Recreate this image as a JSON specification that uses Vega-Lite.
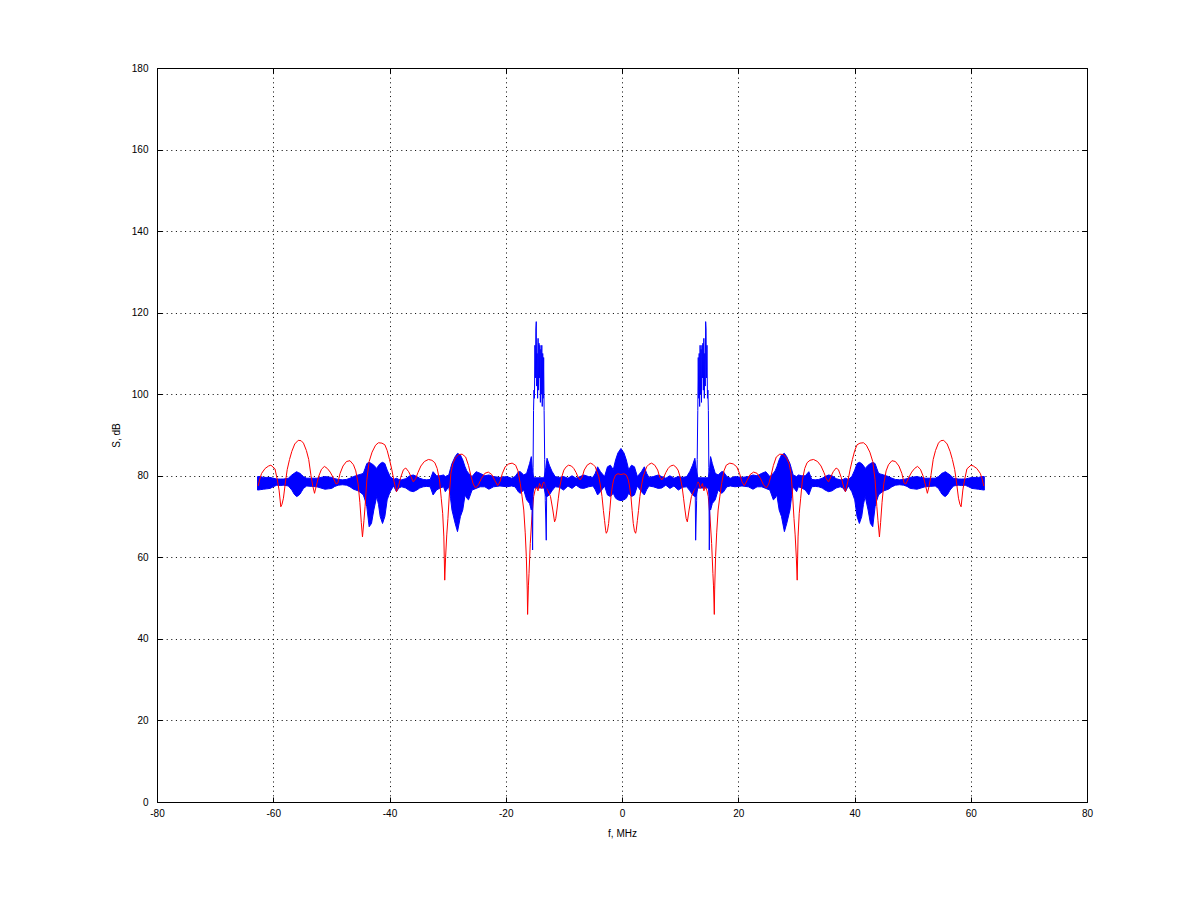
{
  "$schema": "https://vega.github.io/schema/vega-lite/v6.json",
  "description": "Spectrum S (dB) vs f (MHz), red and blue traces, Octave-style box with dotted grid.",
  "width": 930,
  "height": 734,
  "autosize": "none",
  "padding": {"left": 157, "top": 68, "right": 113, "bottom": 99},
  "background": "white",
  "config": {
    "view": {"stroke": "black", "strokeWidth": 1},
    "axis": {
      "domain": false,
      "tickColor": "black",
      "tickWidth": 1,
      "tickSize": -5,
      "labelFont": "Liberation Sans",
      "labelFontSize": 10,
      "labelColor": "black",
      "titleFont": "Liberation Sans",
      "titleFontSize": 10,
      "titleFontWeight": "normal",
      "titleColor": "black",
      "gridColor": "black",
      "gridOpacity": 1,
      "gridWidth": 1,
      "gridDash": [1, 3.6]
    }
  },
  "resolve": {"axis": {"x": "independent", "y": "independent"}},
  "datasets": {
    "blue": [
      {"f": -62.7, "lo": 76.5, "hi": 79.8},
      {"f": -62.2, "lo": 76.6, "hi": 79.8},
      {"f": -61.7, "lo": 76.7, "hi": 79.6},
      {"f": -61.1, "lo": 76.8, "hi": 79.6},
      {"f": -60.56, "lo": 76.9, "hi": 79.6},
      {"f": -60.0, "lo": 77.3, "hi": 79.4},
      {"f": -59.4, "lo": 77.7, "hi": 79.2},
      {"f": -58.8, "lo": 77.6, "hi": 79.2},
      {"f": -58.3, "lo": 77.7, "hi": 79.2},
      {"f": -57.8, "lo": 77.6, "hi": 79.3},
      {"f": -57.4, "lo": 77.5, "hi": 79.4},
      {"f": -57.1, "lo": 77.0, "hi": 79.8},
      {"f": -56.8, "lo": 76.5, "hi": 80.2},
      {"f": -56.4, "lo": 75.5, "hi": 80.6},
      {"f": -56.0, "lo": 74.9, "hi": 81.0},
      {"f": -55.7, "lo": 75.1, "hi": 80.8},
      {"f": -55.4, "lo": 75.5, "hi": 80.6},
      {"f": -55.1, "lo": 76.2, "hi": 80.2},
      {"f": -54.8, "lo": 76.9, "hi": 79.8},
      {"f": -54.25, "lo": 77.5, "hi": 79.4},
      {"f": -53.4, "lo": 77.4, "hi": 79.4},
      {"f": -52.5, "lo": 77.3, "hi": 79.4},
      {"f": -51.8, "lo": 77.0, "hi": 79.6},
      {"f": -51.1, "lo": 76.7, "hi": 79.8},
      {"f": -50.5, "lo": 76.8, "hi": 79.7},
      {"f": -49.95, "lo": 76.9, "hi": 79.6},
      {"f": -49.4, "lo": 77.4, "hi": 79.3},
      {"f": -48.8, "lo": 77.7, "hi": 79.1},
      {"f": -48.1, "lo": 77.8, "hi": 79.0},
      {"f": -47.4, "lo": 77.7, "hi": 79.1},
      {"f": -46.8, "lo": 77.3, "hi": 79.4},
      {"f": -46.2, "lo": 76.7, "hi": 79.8},
      {"f": -45.8, "lo": 76.5, "hi": 80.0},
      {"f": -45.4, "lo": 76.3, "hi": 80.2},
      {"f": -44.9, "lo": 75.8, "hi": 80.4},
      {"f": -44.5, "lo": 75.3, "hi": 80.6},
      {"f": -44.2, "lo": 74.0, "hi": 81.8},
      {"f": -43.9, "lo": 72.4, "hi": 83.0},
      {"f": -43.5, "lo": 67.5, "hi": 83.3},
      {"f": -43.1, "lo": 68.3, "hi": 83.0},
      {"f": -42.7, "lo": 71.6, "hi": 82.6},
      {"f": -42.2, "lo": 74.9, "hi": 81.8},
      {"f": -41.9, "lo": 73.0, "hi": 82.5},
      {"f": -41.6, "lo": 70.0, "hi": 83.0},
      {"f": -41.2, "lo": 68.3, "hi": 83.3},
      {"f": -40.8, "lo": 70.0, "hi": 83.0},
      {"f": -40.4, "lo": 74.1, "hi": 81.4},
      {"f": -39.9, "lo": 76.1, "hi": 79.8},
      {"f": -39.3, "lo": 77.5, "hi": 79.1},
      {"f": -38.8, "lo": 76.1, "hi": 79.4},
      {"f": -38.4, "lo": 77.0, "hi": 79.1},
      {"f": -37.9, "lo": 77.3, "hi": 79.0},
      {"f": -37.2, "lo": 77.0, "hi": 79.3},
      {"f": -36.5, "lo": 76.3, "hi": 80.0},
      {"f": -35.9, "lo": 76.1, "hi": 80.2},
      {"f": -35.3, "lo": 76.5, "hi": 79.8},
      {"f": -34.8, "lo": 77.0, "hi": 79.4},
      {"f": -34.2, "lo": 77.3, "hi": 79.1},
      {"f": -33.6, "lo": 77.4, "hi": 79.0},
      {"f": -33.0, "lo": 77.3, "hi": 79.1},
      {"f": -32.5, "lo": 75.3, "hi": 81.0},
      {"f": -31.9, "lo": 76.5, "hi": 80.0},
      {"f": -31.3, "lo": 77.0, "hi": 80.0},
      {"f": -30.7, "lo": 77.3, "hi": 80.2},
      {"f": -30.4, "lo": 76.1, "hi": 79.8},
      {"f": -29.8, "lo": 77.3, "hi": 80.2},
      {"f": -29.5, "lo": 74.5, "hi": 81.8},
      {"f": -29.25, "lo": 71.6, "hi": 83.0},
      {"f": -28.7, "lo": 68.3, "hi": 84.7},
      {"f": -28.3, "lo": 66.3, "hi": 85.5},
      {"f": -27.8, "lo": 70.0, "hi": 85.1},
      {"f": -27.4, "lo": 71.6, "hi": 83.9},
      {"f": -27.0, "lo": 75.3, "hi": 82.2},
      {"f": -26.7, "lo": 74.5, "hi": 81.2},
      {"f": -26.4, "lo": 74.1, "hi": 80.6},
      {"f": -25.8, "lo": 76.5, "hi": 79.8},
      {"f": -25.1, "lo": 76.9, "hi": 81.0},
      {"f": -24.4, "lo": 77.3, "hi": 80.6},
      {"f": -23.6, "lo": 77.3, "hi": 80.0},
      {"f": -22.9, "lo": 76.7, "hi": 80.2},
      {"f": -22.1, "lo": 77.3, "hi": 79.8},
      {"f": -21.0, "lo": 77.5, "hi": 79.6},
      {"f": -19.8, "lo": 77.3, "hi": 79.8},
      {"f": -19.0, "lo": 77.5, "hi": 79.4},
      {"f": -18.4, "lo": 77.3, "hi": 79.8},
      {"f": -17.8, "lo": 76.0, "hi": 81.0},
      {"f": -17.5, "lo": 75.7, "hi": 81.0},
      {"f": -16.9, "lo": 76.5, "hi": 80.2},
      {"f": -16.4, "lo": 74.1, "hi": 80.6},
      {"f": -15.9, "lo": 73.2, "hi": 83.0},
      {"f": -15.6, "lo": 71.6, "hi": 84.7},
      {"f": -15.4, "lo": 75.0, "hi": 81.0},
      {"f": -15.2, "lo": 77.0, "hi": 79.5},
      {"f": -13.4, "lo": 77.0, "hi": 79.5},
      {"f": -13.1, "lo": 75.0, "hi": 82.0},
      {"f": -12.9, "lo": 74.9, "hi": 84.3},
      {"f": -12.5, "lo": 75.3, "hi": 82.6},
      {"f": -12.05, "lo": 76.3, "hi": 81.1},
      {"f": -11.5, "lo": 77.3, "hi": 79.8},
      {"f": -10.8, "lo": 77.2, "hi": 79.6},
      {"f": -10.05, "lo": 76.5, "hi": 79.8},
      {"f": -9.3, "lo": 77.5, "hi": 79.4},
      {"f": -8.6, "lo": 76.9, "hi": 80.0},
      {"f": -7.9, "lo": 77.7, "hi": 79.4},
      {"f": -7.2, "lo": 77.0, "hi": 79.8},
      {"f": -6.6, "lo": 76.9, "hi": 80.2},
      {"f": -5.75, "lo": 77.3, "hi": 79.8},
      {"f": -5.0, "lo": 77.5, "hi": 79.6},
      {"f": -4.6, "lo": 76.6, "hi": 80.6},
      {"f": -4.2, "lo": 75.3, "hi": 82.2},
      {"f": -3.7, "lo": 76.1, "hi": 81.0},
      {"f": -3.0, "lo": 77.5, "hi": 79.8},
      {"f": -2.5, "lo": 75.3, "hi": 82.2},
      {"f": -2.0, "lo": 74.9, "hi": 82.6},
      {"f": -1.5, "lo": 75.7, "hi": 81.5},
      {"f": -1.1, "lo": 74.5, "hi": 83.9},
      {"f": -0.7, "lo": 74.1, "hi": 85.6},
      {"f": -0.18, "lo": 73.9, "hi": 86.7},
      {"f": 0.34, "lo": 74.1, "hi": 85.6},
      {"f": 0.74, "lo": 74.5, "hi": 83.9},
      {"f": 1.14, "lo": 75.7, "hi": 81.5},
      {"f": 1.64, "lo": 74.9, "hi": 82.6},
      {"f": 2.14, "lo": 75.3, "hi": 82.2},
      {"f": 2.64, "lo": 77.5, "hi": 79.8},
      {"f": 3.34, "lo": 76.1, "hi": 81.0},
      {"f": 3.84, "lo": 75.3, "hi": 82.2},
      {"f": 4.24, "lo": 76.6, "hi": 80.6},
      {"f": 4.64, "lo": 77.5, "hi": 79.6},
      {"f": 5.39, "lo": 77.3, "hi": 79.8},
      {"f": 6.24, "lo": 76.9, "hi": 80.2},
      {"f": 6.84, "lo": 77.0, "hi": 79.8},
      {"f": 7.54, "lo": 77.7, "hi": 79.4},
      {"f": 8.24, "lo": 76.9, "hi": 80.0},
      {"f": 8.94, "lo": 77.5, "hi": 79.4},
      {"f": 9.69, "lo": 76.5, "hi": 79.8},
      {"f": 10.44, "lo": 77.2, "hi": 79.6},
      {"f": 11.14, "lo": 77.3, "hi": 79.8},
      {"f": 11.69, "lo": 76.3, "hi": 81.1},
      {"f": 12.14, "lo": 75.3, "hi": 82.6},
      {"f": 12.54, "lo": 74.9, "hi": 84.3},
      {"f": 12.74, "lo": 75.0, "hi": 82.0},
      {"f": 13.04, "lo": 77.0, "hi": 79.5},
      {"f": 14.84, "lo": 77.0, "hi": 79.5},
      {"f": 15.04, "lo": 75.0, "hi": 81.0},
      {"f": 15.24, "lo": 71.6, "hi": 84.7},
      {"f": 15.54, "lo": 73.2, "hi": 83.0},
      {"f": 16.04, "lo": 74.1, "hi": 80.6},
      {"f": 16.54, "lo": 76.5, "hi": 80.2},
      {"f": 17.14, "lo": 75.7, "hi": 81.0},
      {"f": 17.44, "lo": 76.0, "hi": 81.0},
      {"f": 18.04, "lo": 77.3, "hi": 79.8},
      {"f": 18.64, "lo": 77.5, "hi": 79.4},
      {"f": 19.44, "lo": 77.3, "hi": 79.8},
      {"f": 20.64, "lo": 77.5, "hi": 79.6},
      {"f": 21.74, "lo": 77.3, "hi": 79.8},
      {"f": 22.54, "lo": 76.7, "hi": 80.2},
      {"f": 23.24, "lo": 77.3, "hi": 80.0},
      {"f": 24.04, "lo": 77.3, "hi": 80.6},
      {"f": 24.74, "lo": 76.9, "hi": 81.0},
      {"f": 25.44, "lo": 76.5, "hi": 79.8},
      {"f": 26.04, "lo": 74.1, "hi": 80.6},
      {"f": 26.34, "lo": 74.5, "hi": 81.2},
      {"f": 26.64, "lo": 75.3, "hi": 82.2},
      {"f": 27.04, "lo": 71.6, "hi": 83.9},
      {"f": 27.44, "lo": 70.0, "hi": 85.1},
      {"f": 27.94, "lo": 66.3, "hi": 85.5},
      {"f": 28.34, "lo": 68.3, "hi": 84.7},
      {"f": 28.89, "lo": 71.6, "hi": 83.0},
      {"f": 29.14, "lo": 74.5, "hi": 81.8},
      {"f": 29.44, "lo": 77.3, "hi": 80.2},
      {"f": 30.04, "lo": 76.1, "hi": 79.8},
      {"f": 30.34, "lo": 77.3, "hi": 80.2},
      {"f": 30.94, "lo": 77.0, "hi": 80.0},
      {"f": 31.54, "lo": 76.5, "hi": 80.0},
      {"f": 32.14, "lo": 75.3, "hi": 81.0},
      {"f": 32.64, "lo": 77.3, "hi": 79.1},
      {"f": 33.24, "lo": 77.4, "hi": 79.0},
      {"f": 33.84, "lo": 77.3, "hi": 79.1},
      {"f": 34.44, "lo": 77.0, "hi": 79.4},
      {"f": 34.94, "lo": 76.5, "hi": 79.8},
      {"f": 35.54, "lo": 76.1, "hi": 80.2},
      {"f": 36.14, "lo": 76.3, "hi": 80.0},
      {"f": 36.84, "lo": 77.0, "hi": 79.3},
      {"f": 37.54, "lo": 77.3, "hi": 79.0},
      {"f": 38.04, "lo": 77.0, "hi": 79.1},
      {"f": 38.44, "lo": 76.1, "hi": 79.4},
      {"f": 38.94, "lo": 77.5, "hi": 79.1},
      {"f": 39.54, "lo": 76.1, "hi": 79.8},
      {"f": 40.04, "lo": 74.1, "hi": 81.4},
      {"f": 40.44, "lo": 70.0, "hi": 83.0},
      {"f": 40.84, "lo": 68.3, "hi": 83.3},
      {"f": 41.24, "lo": 70.0, "hi": 83.0},
      {"f": 41.54, "lo": 73.0, "hi": 82.5},
      {"f": 41.84, "lo": 74.9, "hi": 81.8},
      {"f": 42.34, "lo": 71.6, "hi": 82.6},
      {"f": 42.74, "lo": 68.3, "hi": 83.0},
      {"f": 43.14, "lo": 67.5, "hi": 83.3},
      {"f": 43.54, "lo": 72.4, "hi": 83.0},
      {"f": 43.84, "lo": 74.0, "hi": 81.8},
      {"f": 44.14, "lo": 75.3, "hi": 80.6},
      {"f": 44.54, "lo": 75.8, "hi": 80.4},
      {"f": 45.04, "lo": 76.3, "hi": 80.2},
      {"f": 45.44, "lo": 76.5, "hi": 80.0},
      {"f": 45.84, "lo": 76.7, "hi": 79.8},
      {"f": 46.44, "lo": 77.3, "hi": 79.4},
      {"f": 47.04, "lo": 77.7, "hi": 79.1},
      {"f": 47.74, "lo": 77.8, "hi": 79.0},
      {"f": 48.44, "lo": 77.7, "hi": 79.1},
      {"f": 49.04, "lo": 77.4, "hi": 79.3},
      {"f": 49.59, "lo": 76.9, "hi": 79.6},
      {"f": 50.14, "lo": 76.8, "hi": 79.7},
      {"f": 50.74, "lo": 76.7, "hi": 79.8},
      {"f": 51.44, "lo": 77.0, "hi": 79.6},
      {"f": 52.14, "lo": 77.3, "hi": 79.4},
      {"f": 53.04, "lo": 77.4, "hi": 79.4},
      {"f": 53.89, "lo": 77.5, "hi": 79.4},
      {"f": 54.44, "lo": 76.9, "hi": 79.8},
      {"f": 54.74, "lo": 76.2, "hi": 80.2},
      {"f": 55.04, "lo": 75.5, "hi": 80.6},
      {"f": 55.34, "lo": 75.1, "hi": 80.8},
      {"f": 55.64, "lo": 74.9, "hi": 81.0},
      {"f": 56.04, "lo": 75.5, "hi": 80.6},
      {"f": 56.44, "lo": 76.5, "hi": 80.2},
      {"f": 56.74, "lo": 77.0, "hi": 79.8},
      {"f": 57.04, "lo": 77.5, "hi": 79.4},
      {"f": 57.44, "lo": 77.6, "hi": 79.3},
      {"f": 57.94, "lo": 77.7, "hi": 79.2},
      {"f": 58.44, "lo": 77.6, "hi": 79.2},
      {"f": 59.04, "lo": 77.7, "hi": 79.2},
      {"f": 59.64, "lo": 77.3, "hi": 79.4},
      {"f": 60.2, "lo": 76.9, "hi": 79.6},
      {"f": 60.74, "lo": 76.8, "hi": 79.6},
      {"f": 61.34, "lo": 76.7, "hi": 79.6},
      {"f": 61.84, "lo": 76.6, "hi": 79.8},
      {"f": 62.34, "lo": 76.5, "hi": 79.8}
    ],
    "peaks": [
      {"side": "L", "f": -15.5, "S": 76},
      {"side": "L", "f": -15.38, "S": 61.8},
      {"side": "L", "f": -15.3, "S": 82},
      {"side": "L", "f": -15.22, "S": 96},
      {"side": "L", "f": -15.14, "S": 101},
      {"side": "L", "f": -15.06, "S": 99},
      {"side": "L", "f": -14.98, "S": 112},
      {"side": "L", "f": -14.9, "S": 104},
      {"side": "L", "f": -14.82, "S": 116},
      {"side": "L", "f": -14.75, "S": 117.8},
      {"side": "L", "f": -14.68, "S": 102},
      {"side": "L", "f": -14.6, "S": 110},
      {"side": "L", "f": -14.52, "S": 99},
      {"side": "L", "f": -14.44, "S": 113.7},
      {"side": "L", "f": -14.36, "S": 101},
      {"side": "L", "f": -14.28, "S": 112.5},
      {"side": "L", "f": -14.2, "S": 104},
      {"side": "L", "f": -14.12, "S": 112},
      {"side": "L", "f": -14.04, "S": 98},
      {"side": "L", "f": -13.96, "S": 111},
      {"side": "L", "f": -13.88, "S": 100},
      {"side": "L", "f": -13.8, "S": 112},
      {"side": "L", "f": -13.72, "S": 97},
      {"side": "L", "f": -13.64, "S": 110},
      {"side": "L", "f": -13.56, "S": 99},
      {"side": "L", "f": -13.48, "S": 109},
      {"side": "L", "f": -13.4, "S": 96},
      {"side": "L", "f": -13.3, "S": 84},
      {"side": "L", "f": -13.2, "S": 74},
      {"side": "L", "f": -13.03, "S": 64.2},
      {"side": "L", "f": -12.95, "S": 78},
      {"side": "L", "f": -12.85, "S": 83},
      {"side": "R", "f": 12.49, "S": 83},
      {"side": "R", "f": 12.59, "S": 78},
      {"side": "R", "f": 12.67, "S": 64.2},
      {"side": "R", "f": 12.84, "S": 74},
      {"side": "R", "f": 12.94, "S": 84},
      {"side": "R", "f": 13.04, "S": 96},
      {"side": "R", "f": 13.12, "S": 109},
      {"side": "R", "f": 13.2, "S": 99},
      {"side": "R", "f": 13.28, "S": 110},
      {"side": "R", "f": 13.36, "S": 97},
      {"side": "R", "f": 13.44, "S": 112},
      {"side": "R", "f": 13.52, "S": 100},
      {"side": "R", "f": 13.6, "S": 111},
      {"side": "R", "f": 13.68, "S": 98},
      {"side": "R", "f": 13.76, "S": 112},
      {"side": "R", "f": 13.84, "S": 104},
      {"side": "R", "f": 13.92, "S": 112.5},
      {"side": "R", "f": 14.0, "S": 101},
      {"side": "R", "f": 14.08, "S": 113.7},
      {"side": "R", "f": 14.16, "S": 99},
      {"side": "R", "f": 14.24, "S": 110},
      {"side": "R", "f": 14.32, "S": 102},
      {"side": "R", "f": 14.39, "S": 117.8},
      {"side": "R", "f": 14.46, "S": 116},
      {"side": "R", "f": 14.54, "S": 104},
      {"side": "R", "f": 14.62, "S": 112},
      {"side": "R", "f": 14.7, "S": 99},
      {"side": "R", "f": 14.78, "S": 101},
      {"side": "R", "f": 14.86, "S": 96},
      {"side": "R", "f": 14.94, "S": 82},
      {"side": "R", "f": 15.02, "S": 61.8},
      {"side": "R", "f": 15.14, "S": 76}
    ],
    "red": [
      {"f": -62.6, "S": 77.5}, {"f": -62.3, "S": 79.3}, {"f": -62.0, "S": 80.6}, {"f": -61.4, "S": 81.8},
      {"f": -60.8, "S": 82.4}, {"f": -60.4, "S": 82.6}, {"f": -59.7, "S": 81.7}, {"f": -59.3, "S": 79.0},
      {"f": -59.0, "S": 76.5}, {"f": -58.7, "S": 72.4}, {"f": -58.5, "S": 73.0}, {"f": -58.25, "S": 74.5},
      {"f": -57.9, "S": 78.5}, {"f": -57.6, "S": 81.5}, {"f": -57.2, "S": 84.0}, {"f": -56.8, "S": 86.0},
      {"f": -56.3, "S": 87.8}, {"f": -55.7, "S": 88.7}, {"f": -55.2, "S": 88.6}, {"f": -54.8, "S": 88.0},
      {"f": -54.3, "S": 86.2}, {"f": -53.9, "S": 84.0}, {"f": -53.5, "S": 80.0}, {"f": -53.2, "S": 77.5},
      {"f": -52.9, "S": 75.7}, {"f": -52.6, "S": 77.5}, {"f": -52.2, "S": 79.8}, {"f": -51.7, "S": 81.6},
      {"f": -51.2, "S": 82.3}, {"f": -50.7, "S": 81.8}, {"f": -50.2, "S": 80.9}, {"f": -49.7, "S": 79.6},
      {"f": -49.2, "S": 78.0}, {"f": -48.9, "S": 78.2}, {"f": -48.5, "S": 80.6}, {"f": -48.0, "S": 82.4},
      {"f": -47.4, "S": 83.5}, {"f": -46.8, "S": 83.7}, {"f": -46.2, "S": 82.7}, {"f": -45.8, "S": 81.2},
      {"f": -45.4, "S": 78.0}, {"f": -45.1, "S": 73.5}, {"f": -44.85, "S": 68.5}, {"f": -44.65, "S": 65.0},
      {"f": -44.4, "S": 69.0}, {"f": -44.2, "S": 72.5}, {"f": -43.9, "S": 79.0}, {"f": -43.5, "S": 83.5},
      {"f": -43.0, "S": 85.8}, {"f": -42.4, "S": 87.5}, {"f": -41.9, "S": 88.1}, {"f": -41.3, "S": 88.0},
      {"f": -40.8, "S": 87.6}, {"f": -40.4, "S": 86.2}, {"f": -40.0, "S": 84.0}, {"f": -39.6, "S": 81.5},
      {"f": -39.2, "S": 78.5}, {"f": -38.8, "S": 76.1}, {"f": -38.5, "S": 77.2}, {"f": -38.1, "S": 79.5},
      {"f": -37.6, "S": 81.5}, {"f": -37.2, "S": 81.9}, {"f": -36.7, "S": 81.0}, {"f": -36.3, "S": 79.8},
      {"f": -35.9, "S": 78.5}, {"f": -35.5, "S": 79.3}, {"f": -35.1, "S": 80.8}, {"f": -34.6, "S": 82.4},
      {"f": -34.0, "S": 83.5}, {"f": -33.3, "S": 84.0}, {"f": -32.7, "S": 83.8}, {"f": -32.2, "S": 83.2},
      {"f": -31.8, "S": 81.8}, {"f": -31.4, "S": 79.0}, {"f": -31.1, "S": 74.5}, {"f": -30.85, "S": 70.8},
      {"f": -30.65, "S": 65.0}, {"f": -30.5, "S": 54.4}, {"f": -30.35, "S": 60.0}, {"f": -30.15, "S": 65.5},
      {"f": -29.95, "S": 69.5}, {"f": -29.7, "S": 75.5}, {"f": -29.45, "S": 80.5}, {"f": -29.1, "S": 83.0},
      {"f": -28.7, "S": 84.3}, {"f": -28.1, "S": 85.2}, {"f": -27.5, "S": 85.3}, {"f": -26.9, "S": 84.6},
      {"f": -26.4, "S": 82.5}, {"f": -26.0, "S": 80.0}, {"f": -25.6, "S": 78.0}, {"f": -25.2, "S": 77.0},
      {"f": -24.7, "S": 77.8}, {"f": -24.2, "S": 79.3}, {"f": -23.6, "S": 80.6}, {"f": -23.0, "S": 80.9},
      {"f": -22.4, "S": 80.3}, {"f": -21.9, "S": 78.9}, {"f": -21.4, "S": 77.6}, {"f": -21.0, "S": 78.5},
      {"f": -20.6, "S": 80.5}, {"f": -20.1, "S": 82.2}, {"f": -19.5, "S": 82.9}, {"f": -18.9, "S": 83.1},
      {"f": -18.3, "S": 82.6}, {"f": -17.9, "S": 81.2}, {"f": -17.5, "S": 78.1}, {"f": -17.2, "S": 75.0},
      {"f": -16.9, "S": 71.6}, {"f": -16.65, "S": 66.0}, {"f": -16.46, "S": 60.2}, {"f": -16.3, "S": 52.0},
      {"f": -16.24, "S": 46.0}, {"f": -16.1, "S": 53.0}, {"f": -16.0, "S": 56.0}, {"f": -15.78, "S": 63.4},
      {"f": -15.5, "S": 69.9}, {"f": -15.2, "S": 74.9}, {"f": -14.95, "S": 76.5}, {"f": -14.7, "S": 77.3},
      {"f": -14.45, "S": 76.3}, {"f": -14.2, "S": 78.1}, {"f": -13.95, "S": 77.4}, {"f": -13.8, "S": 76.9},
      {"f": -13.6, "S": 78.2}, {"f": -13.4, "S": 78.5}, {"f": -13.1, "S": 77.2}, {"f": -12.8, "S": 76.5},
      {"f": -12.3, "S": 74.9}, {"f": -11.9, "S": 71.6}, {"f": -11.6, "S": 68.7}, {"f": -11.4, "S": 69.5},
      {"f": -11.2, "S": 71.6}, {"f": -10.95, "S": 74.5}, {"f": -10.7, "S": 77.3}, {"f": -10.35, "S": 79.8},
      {"f": -10.0, "S": 81.4}, {"f": -9.6, "S": 82.2}, {"f": -9.2, "S": 82.6}, {"f": -8.7, "S": 82.4},
      {"f": -8.3, "S": 81.8}, {"f": -7.9, "S": 80.8}, {"f": -7.6, "S": 79.8}, {"f": -7.2, "S": 79.0},
      {"f": -6.85, "S": 79.7}, {"f": -6.5, "S": 81.4}, {"f": -6.0, "S": 82.6}, {"f": -5.45, "S": 83.1},
      {"f": -5.0, "S": 82.8}, {"f": -4.6, "S": 82.2}, {"f": -4.3, "S": 81.0}, {"f": -4.0, "S": 79.8},
      {"f": -3.7, "S": 77.5}, {"f": -3.44, "S": 74.9}, {"f": -3.2, "S": 71.5}, {"f": -3.0, "S": 69.0},
      {"f": -2.8, "S": 66.5}, {"f": -2.7, "S": 65.9}, {"f": -2.5, "S": 66.5}, {"f": -2.3, "S": 68.3},
      {"f": -2.1, "S": 71.5}, {"f": -1.9, "S": 74.9}, {"f": -1.65, "S": 77.5}, {"f": -1.45, "S": 79.0},
      {"f": -1.1, "S": 80.2}, {"f": -0.7, "S": 80.5}, {"f": -0.18, "S": 80.3},
      {"f": 0.34, "S": 80.5}, {"f": 0.74, "S": 80.2}, {"f": 1.09, "S": 79.0}, {"f": 1.29, "S": 77.5},
      {"f": 1.54, "S": 74.9}, {"f": 1.74, "S": 71.5}, {"f": 1.94, "S": 68.3}, {"f": 2.14, "S": 66.5},
      {"f": 2.34, "S": 65.9}, {"f": 2.44, "S": 66.5}, {"f": 2.64, "S": 69.0}, {"f": 2.84, "S": 71.5},
      {"f": 3.08, "S": 74.9}, {"f": 3.34, "S": 77.5}, {"f": 3.64, "S": 79.8}, {"f": 3.94, "S": 81.0},
      {"f": 4.24, "S": 82.2}, {"f": 4.64, "S": 82.8}, {"f": 5.09, "S": 83.1}, {"f": 5.64, "S": 82.6},
      {"f": 6.14, "S": 81.4}, {"f": 6.49, "S": 79.7}, {"f": 6.84, "S": 79.0}, {"f": 7.24, "S": 79.8},
      {"f": 7.54, "S": 80.8}, {"f": 7.94, "S": 81.8}, {"f": 8.34, "S": 82.4}, {"f": 8.84, "S": 82.6},
      {"f": 9.24, "S": 82.2}, {"f": 9.64, "S": 81.4}, {"f": 9.99, "S": 79.8}, {"f": 10.34, "S": 77.3},
      {"f": 10.59, "S": 74.5}, {"f": 10.84, "S": 71.6}, {"f": 11.04, "S": 69.5}, {"f": 11.24, "S": 68.7},
      {"f": 11.54, "S": 71.6}, {"f": 11.94, "S": 74.9}, {"f": 12.44, "S": 76.5}, {"f": 12.74, "S": 77.2},
      {"f": 13.04, "S": 78.5}, {"f": 13.24, "S": 78.2}, {"f": 13.44, "S": 76.9}, {"f": 13.59, "S": 77.4},
      {"f": 13.84, "S": 78.1}, {"f": 14.09, "S": 76.3}, {"f": 14.34, "S": 77.3}, {"f": 14.59, "S": 76.5},
      {"f": 14.84, "S": 74.9}, {"f": 15.14, "S": 69.9}, {"f": 15.42, "S": 63.4}, {"f": 15.64, "S": 56.0},
      {"f": 15.74, "S": 53.0}, {"f": 15.88, "S": 46.0}, {"f": 15.94, "S": 52.0}, {"f": 16.1, "S": 60.2},
      {"f": 16.29, "S": 66.0}, {"f": 16.54, "S": 71.6}, {"f": 16.84, "S": 75.0}, {"f": 17.14, "S": 78.1},
      {"f": 17.54, "S": 81.2}, {"f": 17.94, "S": 82.6}, {"f": 18.54, "S": 83.1}, {"f": 19.14, "S": 82.9},
      {"f": 19.74, "S": 82.2}, {"f": 20.24, "S": 80.5}, {"f": 20.64, "S": 78.5}, {"f": 21.04, "S": 77.6},
      {"f": 21.54, "S": 78.9}, {"f": 22.04, "S": 80.3}, {"f": 22.64, "S": 80.9}, {"f": 23.24, "S": 80.6},
      {"f": 23.84, "S": 79.3}, {"f": 24.34, "S": 77.8}, {"f": 24.84, "S": 77.0}, {"f": 25.24, "S": 78.0},
      {"f": 25.64, "S": 80.0}, {"f": 26.04, "S": 82.5}, {"f": 26.54, "S": 84.6}, {"f": 27.14, "S": 85.3},
      {"f": 27.74, "S": 85.2}, {"f": 28.34, "S": 84.3}, {"f": 28.74, "S": 83.0}, {"f": 29.09, "S": 80.5},
      {"f": 29.34, "S": 75.5}, {"f": 29.59, "S": 69.5}, {"f": 29.79, "S": 65.5}, {"f": 29.99, "S": 60.0},
      {"f": 30.14, "S": 54.4}, {"f": 30.29, "S": 65.0}, {"f": 30.49, "S": 70.8}, {"f": 30.74, "S": 74.5},
      {"f": 31.04, "S": 79.0}, {"f": 31.44, "S": 81.8}, {"f": 31.84, "S": 83.2}, {"f": 32.34, "S": 83.8},
      {"f": 32.94, "S": 84.0}, {"f": 33.64, "S": 83.5}, {"f": 34.24, "S": 82.4}, {"f": 34.74, "S": 80.8},
      {"f": 35.14, "S": 79.3}, {"f": 35.54, "S": 78.5}, {"f": 35.94, "S": 79.8}, {"f": 36.34, "S": 81.0},
      {"f": 36.84, "S": 81.9}, {"f": 37.24, "S": 81.5}, {"f": 37.74, "S": 79.5}, {"f": 38.14, "S": 77.2},
      {"f": 38.44, "S": 76.1}, {"f": 38.84, "S": 78.5}, {"f": 39.24, "S": 81.5}, {"f": 39.64, "S": 84.0},
      {"f": 40.04, "S": 86.2}, {"f": 40.44, "S": 87.6}, {"f": 40.94, "S": 88.0}, {"f": 41.54, "S": 88.1},
      {"f": 42.04, "S": 87.5}, {"f": 42.64, "S": 85.8}, {"f": 43.14, "S": 83.5}, {"f": 43.54, "S": 79.0},
      {"f": 43.84, "S": 72.5}, {"f": 44.04, "S": 69.0}, {"f": 44.29, "S": 65.0}, {"f": 44.49, "S": 68.5},
      {"f": 44.74, "S": 73.5}, {"f": 45.04, "S": 78.0}, {"f": 45.44, "S": 81.2}, {"f": 45.84, "S": 82.7},
      {"f": 46.44, "S": 83.7}, {"f": 47.04, "S": 83.5}, {"f": 47.64, "S": 82.4}, {"f": 48.14, "S": 80.6},
      {"f": 48.54, "S": 78.2}, {"f": 48.84, "S": 78.0}, {"f": 49.34, "S": 79.6}, {"f": 49.84, "S": 80.9},
      {"f": 50.34, "S": 81.8}, {"f": 50.84, "S": 82.3}, {"f": 51.34, "S": 81.6}, {"f": 51.84, "S": 79.8},
      {"f": 52.24, "S": 77.5}, {"f": 52.54, "S": 75.7}, {"f": 52.84, "S": 77.5}, {"f": 53.14, "S": 80.0},
      {"f": 53.54, "S": 84.0}, {"f": 53.94, "S": 86.2}, {"f": 54.44, "S": 88.0}, {"f": 54.84, "S": 88.6},
      {"f": 55.34, "S": 88.7}, {"f": 55.94, "S": 87.8}, {"f": 56.44, "S": 86.0}, {"f": 56.84, "S": 84.0},
      {"f": 57.24, "S": 81.5}, {"f": 57.54, "S": 78.5}, {"f": 57.89, "S": 74.5}, {"f": 58.14, "S": 73.0},
      {"f": 58.34, "S": 72.4}, {"f": 58.64, "S": 76.5}, {"f": 58.94, "S": 79.0}, {"f": 59.34, "S": 81.7},
      {"f": 60.04, "S": 82.6}, {"f": 60.44, "S": 82.4}, {"f": 61.04, "S": 81.8}, {"f": 61.64, "S": 80.6},
      {"f": 61.94, "S": 79.3}, {"f": 62.24, "S": 77.5}
    ]
  },
  "layer": [
    {
      "data": {"name": "blue"},
      "mark": {"type": "area", "color": "#0000ff", "stroke": "#0000ff", "strokeWidth": 1},
      "encoding": {
        "x": {
          "field": "f", "type": "quantitative",
          "scale": {"domain": [-80, 80], "nice": false, "zero": false},
          "axis": {
            "orient": "bottom", "title": "f, MHz", "grid": true,
            "values": [-80, -60, -40, -20, 0, 20, 40, 60, 80],
            "labelExpr": "'' + datum.value", "labelPadding": 11, "titlePadding": 10,
            "labelFlush": false
          }
        },
        "y": {
          "field": "hi", "type": "quantitative",
          "scale": {"domain": [0, 180], "nice": false},
          "axis": {
            "orient": "left", "title": "S, dB", "grid": true,
            "values": [0, 20, 40, 60, 80, 100, 120, 140, 160, 180],
            "labelExpr": "'' + datum.value", "labelPadding": 14, "titlePadding": 10,
            "labelFlush": false
          }
        },
        "y2": {"field": "lo"}
      }
    },
    {
      "data": {"name": "red"},
      "mark": {"type": "line", "color": "#ff0000", "strokeWidth": 1},
      "encoding": {
        "x": {
          "field": "f", "type": "quantitative",
          "axis": {
            "orient": "top", "title": null, "grid": false, "labels": false,
            "values": [-80, -60, -40, -20, 0, 20, 40, 60, 80]
          }
        },
        "y": {
          "field": "S", "type": "quantitative",
          "axis": {
            "orient": "right", "title": null, "grid": false, "labels": false,
            "values": [0, 20, 40, 60, 80, 100, 120, 140, 160, 180]
          }
        }
      }
    },
    {
      "data": {"name": "peaks"},
      "mark": {"type": "line", "color": "#0000ff", "strokeWidth": 1},
      "encoding": {
        "x": {"field": "f", "type": "quantitative", "axis": null},
        "y": {"field": "S", "type": "quantitative", "axis": null},
        "detail": {"field": "side"}
      }
    }
  ]
}
